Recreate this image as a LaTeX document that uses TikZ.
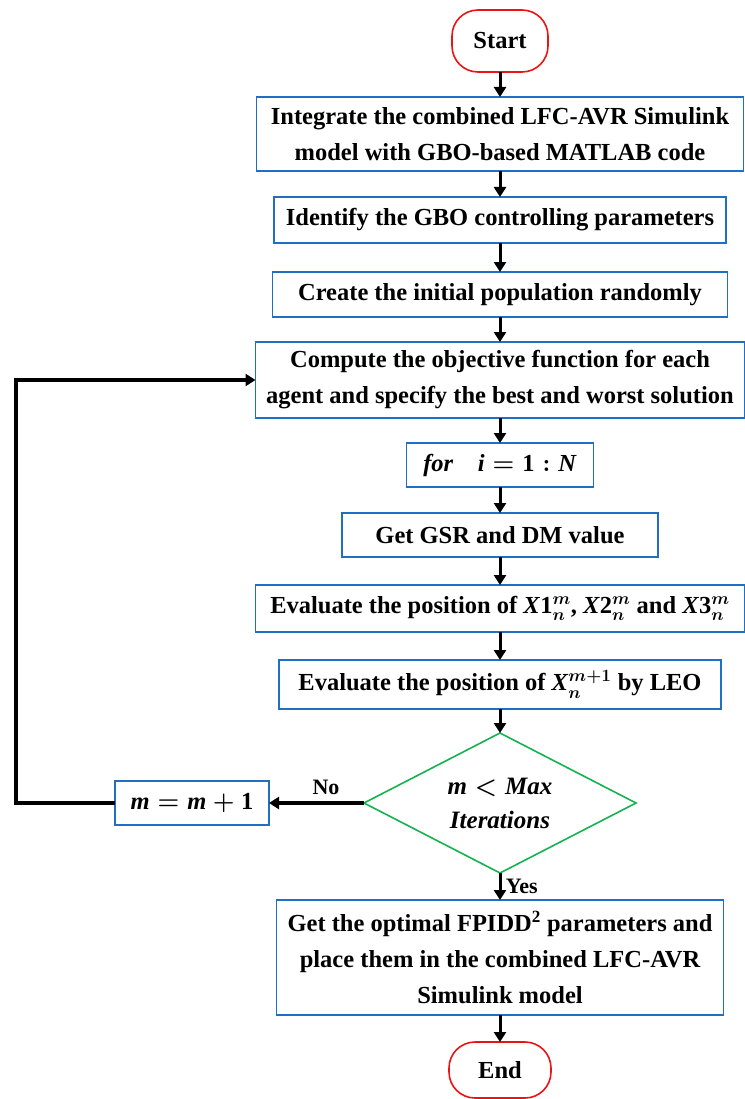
\documentclass[tikz,border=0pt]{standalone}
\usepackage{fontspec}
\setmainfont{Liberation Serif}
\usepackage{tikz}
\usetikzlibrary{
  positioning,
  arrows.meta,
  shapes.geometric
}
\definecolor{boxborder}{RGB}{31,111,196}
\definecolor{termborder}{RGB}{235,20,20}
\definecolor{decborder}{RGB}{20,178,80}
\definecolor{arrowcolor}{RGB}{0,0,0}
\newcommand{\mv}[1]{\textit{#1}}
\tikzset{
  procbox/.style={
    draw=boxborder, fill=white, line width=1.6pt, outer sep=0pt,
    minimum height=46pt, inner sep=2pt,
    font=\fontsize{24.5}{36}\selectfont\bfseries\boldmath, align=center
  },
  termnode/.style={
    draw=termborder, fill=white, line width=1.6pt, outer sep=0pt, rounded corners=26pt,
    minimum width=96pt, minimum height=62pt,
    font=\fontsize{24.5}{28}\selectfont\bfseries, align=center
  },
  decnode/.style={
    draw=decborder, fill=white, line width=1.6pt, outer sep=0pt, diamond, aspect=1.94,
    minimum width=272pt, minimum height=140pt, inner sep=0pt,
    font=\fontsize{25}{34}\selectfont\bfseries\boldmath, align=center
  },
  flowarrow/.style={
    -{Triangle[width=12pt,length=10pt]}, line width=3pt, draw=arrowcolor
  },
  looparrow/.style={
    -{Triangle[width=12pt,length=10pt]}, line width=4.5pt, draw=arrowcolor
  },
  flowlabel/.style={
    font=\fontsize{22}{24}\selectfont\bfseries
  }
}
\begin{document}
\begin{tikzpicture}[x=1pt, y=-1pt]
  \useasboundingbox (0,0) rectangle (744,1099);

  \coordinate (updx) at (192,0);
  \coordinate (lc) at (16,0);

  \node[termnode] (start) at (500,41) {Start};

  \node[procbox, minimum width=487pt, minimum height=74pt, below=25pt of start] (b1) {
    Integrate the combined LFC-AVR Simulink\\
    model with GBO-based MATLAB code
  };
  \node[procbox, minimum width=452pt, below=26pt of b1] (b2) {Identify the GBO controlling parameters};
  \node[procbox, minimum width=455pt, minimum height=45pt, below=29pt of b2] (b3) {Create the initial population randomly};
  \node[procbox, minimum width=489pt, minimum height=76pt, below=25pt of b3] (b4) {
    Compute the objective function for each\\
    agent and specify the best and worst solution
  };
  \node[procbox, minimum width=187pt, minimum height=44pt, below=25pt of b4] (b5) {\mv{for}\quad\mv{i}${}={}$1${}:{}$\mv{N}};
  \node[procbox, minimum width=316pt, minimum height=44pt, below=26pt of b5] (b6) {Get GSR and DM value};
  \node[procbox, minimum width=489pt, minimum height=47pt, below=28pt of b6] (b7) {Evaluate the position of \mv{X}1$_n^m$, \mv{X}2$_n^m$ and \mv{X}3$_n^m$};
  \node[procbox, minimum width=442pt, minimum height=49pt, below=28pt of b7] (b8) {Evaluate the position of \mv{X}$_n^{m+1}$ by LEO};

  \node[decnode, below=24pt of b8] (dec) {\mv{m}${}<{}$\mv{Max}\\\mv{Iterations}};
  \node[procbox, minimum width=154pt, minimum height=44pt] (upd) at (updx |- dec) {\mv{m}${}={}$\mv{m}${}+{}$1};

  \node[procbox, minimum width=447pt, minimum height=115pt, below=27pt of dec] (b9) {
    Get the optimal FPIDD\textsuperscript{2} parameters and\\
    place them in the combined LFC-AVR\\
    Simulink model
  };
  \node[termnode, minimum width=102pt, minimum height=56pt, below=27pt of b9] (stop) {End};

  % main flow
  \draw[flowarrow] (start) -- (b1);
  \draw[flowarrow] (b1) -- (b2);
  \draw[flowarrow] (b2) -- (b3);
  \draw[flowarrow] (b3) -- (b4);
  \draw[flowarrow] (b4) -- (b5);
  \draw[flowarrow] (b5) -- (b6);
  \draw[flowarrow] (b6) -- (b7);
  \draw[flowarrow] (b7) -- (b8);
  \draw[flowarrow] (b8) -- (dec);
  \draw[flowarrow] (dec) -- node[flowlabel, right=1pt] {Yes} (b9);
  \draw[flowarrow] (b9) -- (stop);

  % loop back
  \draw[looparrow] (dec.west) -- node[flowlabel, above=3pt, pos=0.4] {No} (upd.east);
  \draw[looparrow] (upd.west) -| (lc |- b4.west) -- (b4.west);

\end{tikzpicture}
\end{document}
